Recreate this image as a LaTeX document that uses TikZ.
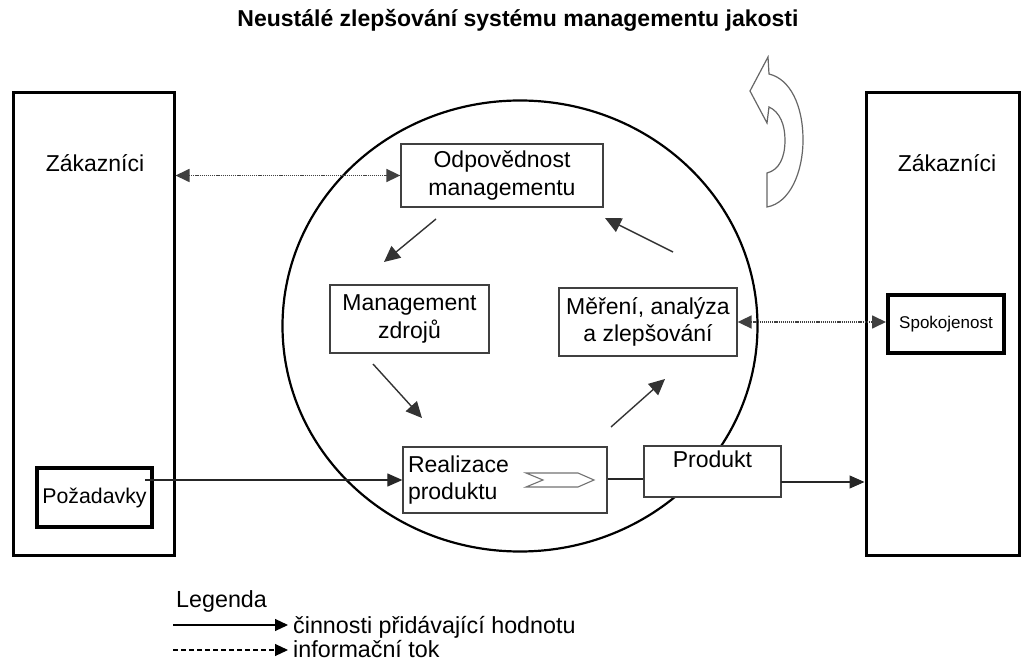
\documentclass[tikz,border=0pt]{standalone}
\usepackage{fontspec}
\setmainfont{Liberation Sans}
\usetikzlibrary{arrows.meta}

\begin{document}
\begin{tikzpicture}[x=1pt,y=-1pt,
  bigbox/.style={draw=black, line width=3pt, inner sep=0pt},
  procbox/.style={draw=black!75, line width=1.3pt, fill=white, inner sep=5pt,
    font=\fontsize{23}{27.5}\selectfont, align=center},
  thickbox/.style={draw=black, line width=4pt, fill=white, inner sep=0pt},
  lbl/.style={font=\fontsize{23}{27}\selectfont, inner sep=0pt},
  act/.style={line width=1.2pt, draw=black!85, -{Triangle[length=15pt,width=13pt]}},
  cyc/.style={line width=1.4pt, draw=black!80, -{Triangle[length=16pt,width=15pt]}},
  info/.style={line width=1.7pt, draw=black!75, dash pattern=on 1.2pt off 0.9pt,
    {Triangle[length=14pt,width=13pt]}-{Triangle[length=14pt,width=13pt]}},
  legact/.style={line width=1.1pt, -{Triangle[length=13pt,width=12pt]}},
  leginfo/.style={line width=1.1pt, dash pattern=on 5pt off 3pt, -{Triangle[length=13pt,width=12pt]}},
  legtxt/.style={font=\fontsize{23.3}{27}\selectfont, anchor=base west, inner sep=0pt},
  outline/.style={draw=black!60, line width=1.2pt, fill=white, line join=miter}]

\useasboundingbox (0,0) rectangle (1021,668);

% title
\node[font=\bfseries\fontsize{23}{27}\selectfont, inner sep=0pt] (title) at (518,20)
  {Neustálé zlepšování systému managementu jakosti};

% customers on both sides
\node[bigbox, minimum width=161, minimum height=462] (custL) at (93.5,324) {};
\node[bigbox, minimum width=153, minimum height=462] (custR) at (942.5,324) {};
\node[lbl] (zakL) at (95,163) {Zákazníci};
\node[lbl] (zakR) at (947,163) {Zákazníci};

% process circle
\draw[line width=2.2pt] (520,326) ellipse [x radius=237.5, y radius=225.5];

% process boxes
\node[procbox, minimum width=202, minimum height=63] (odp) at (502,175.5)
  {Odpovědnost\\managementu};
\node[procbox, minimum width=159, minimum height=68] (mz) at (409.5,319)
  {Management\\zdrojů};
\node[procbox, minimum width=178, minimum height=68] (mer) at (648,322)
  {Měření, analýza\\a zlepšování};
\node[procbox, minimum width=204, minimum height=66, text width=194, align=left] (real) at (505,480)
  {Realizace\\produktu};
\node[procbox, minimum width=137, minimum height=51] (prod) at (712.5,471.5) {};
\node[lbl, anchor=north] (prodt) at (712.5,451) {Produkt};

% chevron inside the realisation box
\draw[draw=black!55, line width=1.1pt, line join=miter]
  (526,473) -- (578,473) -- (594,480) -- (578,487) -- (526,487) -- (543,480) -- cycle;

% inputs and outputs
\node[thickbox, minimum width=115, minimum height=59, font=\fontsize{21.3}{24}\selectfont] (poz) at (94.5,497.5) {Požadavky};
\node[thickbox, minimum width=116, minimum height=58, font=\fontsize{17}{20}\selectfont] (spok) at (946,324) {Spokojenost};

% cycle arrows
\coordinate (c1a) at (436,219);  \coordinate (c1b) at (384,262);
\coordinate (c2a) at (373,364);  \coordinate (c2b) at (422,418);
\coordinate (c3a) at (611,427);  \coordinate (c3b) at (665,379);
\coordinate (c4a) at (673,252);  \coordinate (c4b) at (605,218);
\draw[cyc] (c1a) -- (c1b);
\draw[cyc] (c2a) -- (c2b);
\draw[cyc] (c3a) -- (c3b);
\draw[cyc] (c4a) -- (c4b);

% information flows
\draw[info] (odp.west -| custL.east) -- (odp.west);
\draw[info] (mer.east) -- (mer.east -| spok.west);

% value-adding flows
\coordinate (pzs) at (145,480);
\draw[act] (pzs) -- (pzs -| real.west);
\draw[line width=1.2pt, draw=black!85] (real.east |- 0,479) -- (prod.west |- 0,479);
\coordinate (pe) at (781,482);
\draw[act] (pe) -- (pe -| custR.west);

% continual improvement arrow
\draw[outline]
  (768,57) -- (750,91) -- (767,123) -- (769,107)
  .. controls (780,112) and (785,125) .. (785,140)
  .. controls (785,158) and (779,170) .. (767,173)
  -- (767,207)
  .. controls (790,203) and (803,172) .. (803,140)
  .. controls (803,105) and (790,79) .. (769,74)
  -- cycle;

% legend
\node[legtxt] (leg) at (176,607) {Legenda};
\node[legtxt] (leg1) at (293,633) {činnosti přidávající hodnotu};
\node[legtxt] (leg2) at (293,657) {informační tok};
\coordinate (l1) at (173,625);
\coordinate (l2) at (173,650);
\draw[legact] (l1) -- (l1 -| 288,0);
\draw[leginfo] (l2) -- (l2 -| 288,0);
\end{tikzpicture}
\end{document}
